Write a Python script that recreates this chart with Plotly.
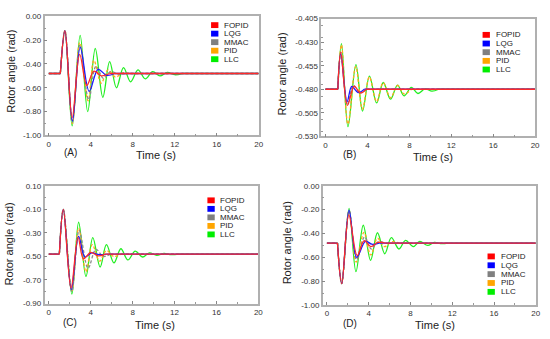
import plotly.graph_objects as go

W, H = 550, 339
FONT = "Arial, Liberation Sans, sans-serif"

NAMES = ["FOPID", "LQG", "MMAC", "PID", "LLC"]
COLORS = ["#ff0000", "#0000ff", "#808080", "#ffa500", "#00ee00"]
LINE_COLORS = ["#ff2a2a", "#1a1aff", "#8a8a8a", "#ffa820", "#22ee22"]
DASHES = ["solid", "solid", "3px,2px", "3px,2px", "solid"]

X_TICKS = [0, 4, 8, 12, 16, 20]
X_TEXT = ["0", "4", "8", "12", "16", "20"]

A_YTICKS = [0.0, -0.2, -0.4, -0.6, -0.8, -1.0]
A_YTEXT = ["0.00", "-0.20", "-0.40", "-0.60", "-0.80", "-1.00"]
B_YTICKS = [-0.405, -0.43, -0.455, -0.48, -0.505, -0.53]
B_YTEXT = ["-0.405", "-0.430", "-0.455", "-0.480", "-0.505", "-0.530"]
C_YTICKS = [0.1, -0.1, -0.3, -0.5, -0.7, -0.9]
C_YTEXT = ["0.10", "-0.10", "-0.30", "-0.50", "-0.70", "-0.90"]
D_YTICKS = [0.0, -0.2, -0.4, -0.6, -0.8, -1.0]
D_YTEXT = ["0.00", "-0.20", "-0.40", "-0.60", "-0.80", "-1.00"]

# ---------------- Panel A ----------------
A_FOPID_t = [0, 1.1, 1.54, 2.23, 2.95, 3.62, 4.3, 5.0, 5.8, 20]
A_FOPID_y = [-0.48, -0.48, -0.12, -0.85, -0.32, -0.58, -0.46, -0.50, -0.48, -0.48]
A_LQG_t = [0, 1.1, 1.54, 2.25, 3.0, 3.85, 4.7, 5.5, 6.3, 20]
A_LQG_y = [-0.48, -0.48, -0.12, -0.88, -0.26, -0.63, -0.445, -0.495, -0.48, -0.48]
A_MMAC_t = [0, 1.1, 1.54, 2.25, 2.97, 3.8, 4.5, 5.2, 5.9, 6.6, 7.3, 20]
A_MMAC_y = [-0.48, -0.48, -0.12, -0.89, -0.24, -0.70, -0.42, -0.52, -0.465, -0.485, -0.48, -0.48]
A_PID_t = [0, 1.1, 1.54, 2.25, 2.95, 3.75, 4.3, 5.0, 5.65, 6.35, 7.05, 7.8, 20]
A_PID_y = [-0.48, -0.48, -0.12, -0.90, -0.22, -0.71, -0.37, -0.56, -0.45, -0.51, -0.475, -0.48, -0.48]
A_LLC_t = [0, 1.1, 1.54, 2.23, 2.99, 3.71, 4.43, 5.15, 5.8, 6.45, 7.12, 7.8, 8.5, 9.2, 9.9, 10.6, 11.3, 12.0, 12.7, 20]
A_LLC_y = [-0.48, -0.48, -0.12, -0.92, -0.16, -0.80, -0.27, -0.68, -0.38, -0.60, -0.43, -0.55, -0.45, -0.525, -0.465, -0.50, -0.47, -0.49, -0.48, -0.48]

# ---------------- Panel B ----------------
B_FOPID_t = [0, 1.17, 1.45, 2.09, 2.74, 3.31, 3.9, 20]
B_FOPID_y = [-0.48, -0.48, -0.4405, -0.497, -0.4766, -0.4839, -0.48, -0.48]
B_LQG_t = [0, 1.17, 1.45, 2.06, 2.5, 3.1, 3.7, 20]
B_LQG_y = [-0.48, -0.48, -0.4428, -0.493, -0.477, -0.4835, -0.48, -0.48]
B_MMAC_t = [0, 1.17, 1.47, 2.08, 2.65, 3.25, 3.9, 20]
B_MMAC_y = [-0.48, -0.48, -0.441, -0.496, -0.476, -0.484, -0.48, -0.48]
B_PID_t = [0, 1.17, 1.52, 2.14, 2.88, 3.52, 4.18, 4.87, 5.5, 6.2, 6.87, 7.5, 8.2, 20]
B_PID_y = [-0.48, -0.48, -0.433, -0.517, -0.456, -0.501, -0.467, -0.493, -0.473, -0.489, -0.476, -0.485, -0.48, -0.48]
B_LLC_t = [0, 1.17, 1.52, 2.14, 2.90, 3.53, 4.19, 4.88, 5.51, 6.2, 6.87, 7.5, 8.19, 8.82, 9.5, 10.15, 10.8, 20]
B_LLC_y = [-0.48, -0.48, -0.4315, -0.5197, -0.4539, -0.5031, -0.466, -0.4945, -0.4728, -0.4905, -0.4755, -0.487, -0.478, -0.4845, -0.4795, -0.482, -0.48, -0.48]

# ---------------- Panel C ----------------
C_FOPID_t = [0, 1.01, 1.39, 2.12, 2.8, 3.31, 4.0, 4.7, 5.4, 20]
C_FOPID_y = [-0.48, -0.48, -0.10, -0.77, -0.34, -0.52, -0.465, -0.495, -0.48, -0.48]
C_LQG_t = [0, 1.01, 1.39, 2.15, 2.85, 3.45, 4.1, 4.8, 5.5, 20]
C_LQG_y = [-0.48, -0.48, -0.10, -0.78, -0.33, -0.505, -0.47, -0.485, -0.48, -0.48]
C_MMAC_t = [0, 1.01, 1.39, 2.2, 2.9, 3.75, 4.5, 5.2, 5.9, 20]
C_MMAC_y = [-0.48, -0.48, -0.10, -0.80, -0.28, -0.60, -0.44, -0.50, -0.48, -0.48]
C_PID_t = [0, 1.01, 1.39, 2.2, 2.85, 3.55, 4.15, 4.85, 5.5, 6.2, 6.9, 20]
C_PID_y = [-0.48, -0.48, -0.10, -0.79, -0.26, -0.63, -0.40, -0.54, -0.45, -0.50, -0.48, -0.48]
C_LLC_t = [0, 1.01, 1.39, 2.2, 2.85, 3.55, 4.2, 4.9, 5.5, 6.22, 6.88, 7.55, 8.25, 8.95, 9.6, 10.3, 11.0, 11.7, 12.4, 20]
C_LLC_y = [-0.48, -0.48, -0.10, -0.82, -0.21, -0.67, -0.34, -0.59, -0.40, -0.555, -0.435, -0.53, -0.455, -0.505, -0.47, -0.49, -0.475, -0.485, -0.48, -0.48]

# ---------------- Panel D ----------------
D_FOPID_t = [0, 1.01, 1.42, 2.1, 2.9, 3.57, 4.2, 4.9, 5.6, 20]
D_FOPID_y = [-0.48, -0.48, -0.82, -0.245, -0.585, -0.46, -0.51, -0.475, -0.48, -0.48]
D_LQG_t = [0, 1.01, 1.42, 2.12, 2.85, 3.7, 4.3, 5.0, 20]
D_LQG_y = [-0.48, -0.48, -0.82, -0.205, -0.60, -0.465, -0.49, -0.48, -0.48]
D_MMAC_t = [0, 1.01, 1.42, 2.12, 2.85, 3.6, 4.25, 4.9, 5.6, 20]
D_MMAC_y = [-0.48, -0.48, -0.82, -0.21, -0.62, -0.43, -0.53, -0.47, -0.48, -0.48]
D_PID_t = [0, 1.01, 1.42, 2.12, 2.8, 3.55, 4.2, 4.85, 5.5, 6.2, 6.9, 20]
D_PID_y = [-0.48, -0.48, -0.82, -0.21, -0.64, -0.39, -0.58, -0.44, -0.51, -0.47, -0.48, -0.48]
D_LLC_t = [0, 1.01, 1.42, 2.12, 2.78, 3.48, 4.18, 4.84, 5.54, 6.17, 6.9, 7.53, 8.27, 8.89, 9.65, 10.28, 11.0, 11.6, 20]
D_LLC_y = [-0.48, -0.48, -0.82, -0.19, -0.72, -0.331, -0.625, -0.394, -0.57, -0.435, -0.53, -0.457, -0.51, -0.467, -0.50, -0.475, -0.485, -0.48, -0.48]

PANELS = {
    "A": [(A_FOPID_t, A_FOPID_y), (A_LQG_t, A_LQG_y), (A_MMAC_t, A_MMAC_y), (A_PID_t, A_PID_y), (A_LLC_t, A_LLC_y)],
    "B": [(B_FOPID_t, B_FOPID_y), (B_LQG_t, B_LQG_y), (B_MMAC_t, B_MMAC_y), (B_PID_t, B_PID_y), (B_LLC_t, B_LLC_y)],
    "C": [(C_FOPID_t, C_FOPID_y), (C_LQG_t, C_LQG_y), (C_MMAC_t, C_MMAC_y), (C_PID_t, C_PID_y), (C_LLC_t, C_LLC_y)],
    "D": [(D_FOPID_t, D_FOPID_y), (D_LQG_t, D_LQG_y), (D_MMAC_t, D_MMAC_y), (D_PID_t, D_PID_y), (D_LLC_t, D_LLC_y)],
}

# layout geometry in pixels (left, right, top, bottom)
BOX = {
    "A": (45, 261, 12.7, 135),
    "B": (324.3, 540, 15, 136),
    "C": (45, 260.7, 186.7, 307.7),
    "D": (325.7, 540.7, 186.7, 309.3),
}
YRANGE = {"A": [-1.0, 0.0], "B": [-0.53, -0.405], "C": [-0.9, 0.1], "D": [-1.0, 0.0]}
YTICK = {"A": (A_YTICKS, A_YTEXT), "B": (B_YTICKS, B_YTEXT), "C": (C_YTICKS, C_YTEXT), "D": (D_YTICKS, D_YTEXT)}
YMINOR = {"A": 0.1, "B": 0.0125, "C": 0.1, "D": 0.1}
YTITLE_POS = {"A": (11.7, 69), "B": (285, 72), "C": (10, 246), "D": (290, 245.5)}
XTITLE_POS = {"A": (157, 155.5), "B": (436.7, 156.7), "C": (156.7, 329.3), "D": (439, 329.3)}
TAG_POS = {"A": (70.7, 153), "B": (352.7, 155), "C": (70.7, 326.7), "D": (353.3, 328.3)}
LEG_POS = {  # square centre x, text start x, first row y, row step
    "A": (216.7, 224, 21.7, 8.75),
    "B": (490.7, 498.3, 31.7, 8.9),
    "C": (213, 220, 201.7, 8.75),
    "D": (495.7, 503.3, 259.3, 9.1),
}


def fx(px):
    return px / W


def fy(py):
    return 1 - py / H


fig = go.Figure()
layout = {}
annotations = []
shapes = []
draw_order = [4, 3, 2, 1, 0]

for i, key in enumerate(["A", "B", "C", "D"]):
    n = "" if i == 0 else str(i + 1)
    xa, ya = "x" + n, "y" + n
    l, r, t, b = BOX[key]
    for k in draw_order:
        tt, yy = PANELS[key][k]
        # flat parts before the disturbance and after settling
        fig.add_trace(go.Scatter(
            x=[tt[0], tt[1], None, tt[-2], tt[-1]], y=[yy[0], yy[1], None, yy[-2], yy[-1]],
            mode="lines", xaxis=xa, yaxis=ya, showlegend=False, connectgaps=False,
            line=dict(color=LINE_COLORS[k], width=1.3, dash=DASHES[k]), name=NAMES[k], hoverinfo="skip"))
        # transient part
        fig.add_trace(go.Scatter(
            x=tt[1:-1], y=yy[1:-1], mode="lines", xaxis=xa, yaxis=ya, showlegend=False,
            line=dict(color=LINE_COLORS[k], width=1.3, shape="spline", smoothing=1.0, dash=DASHES[k]),
            name=NAMES[k]))
    axis_common = dict(
        showline=True, mirror=True, linecolor="#b0b0b0", linewidth=1.5,
        showgrid=False, zeroline=False, ticks="inside", ticklen=3, tickcolor="#888",
        tickfont=dict(size=8, color="#333", family=FONT),
    )
    layout["xaxis" + n] = dict(
        domain=[fx(l), fx(r)], anchor=ya, range=[-0.4, 20],
        tickmode="array", tickvals=X_TICKS, ticktext=X_TEXT,
        minor=dict(ticks="inside", ticklen=2, tickmode="linear", tick0=0, dtick=2, tickcolor="#999"),
        **axis_common)
    yv, ytx = YTICK[key]
    layout["yaxis" + n] = dict(
        domain=[fy(b), fy(t)], anchor=xa, range=YRANGE[key],
        tickmode="array", tickvals=yv, ticktext=ytx,
        minor=dict(ticks="inside", ticklen=2, tickmode="linear", tick0=0, dtick=YMINOR[key], tickcolor="#999"),
        **axis_common)

    px, py = YTITLE_POS[key]
    annotations.append(dict(text="Rotor angle (rad)", x=fx(px), y=fy(py), xref="paper", yref="paper",
                            textangle=-90, showarrow=False, xanchor="center", yanchor="middle",
                            font=dict(size=11, color="#222", family=FONT)))
    px, py = XTITLE_POS[key]
    annotations.append(dict(text="Time (s)", x=fx(px), y=fy(py), xref="paper", yref="paper",
                            showarrow=False, xanchor="center", yanchor="middle",
                            font=dict(size=11, color="#222", family=FONT)))
    px, py = TAG_POS[key]
    annotations.append(dict(text="(" + key + ")", x=fx(px), y=fy(py), xref="paper", yref="paper",
                            showarrow=False, xanchor="center", yanchor="middle",
                            font=dict(size=10, color="#222", family=FONT)))
    sx, tx, ry, step = LEG_POS[key]
    for k, name in enumerate(NAMES):
        cy = ry + k * step
        shapes.append(dict(type="rect", xref="paper", yref="paper",
                           x0=fx(sx - 3.7), x1=fx(sx + 3.7), y0=fy(cy + 3), y1=fy(cy - 3),
                           fillcolor=COLORS[k], line=dict(width=0)))
        annotations.append(dict(text=name, x=fx(tx), y=fy(cy), xref="paper", yref="paper",
                                showarrow=False, xanchor="left", yanchor="middle",
                                font=dict(size=8, color="#222", family=FONT)))

fig.update_layout(
    width=W, height=H, margin=dict(l=0, r=0, t=0, b=0),
    paper_bgcolor="white", plot_bgcolor="white",
    annotations=annotations, shapes=shapes, showlegend=False,
    **layout)

fig.write_html("out.html", config={"displayModeBar": False},
               post_script="document.body.style.margin='0px';document.body.style.overflow='hidden';")
